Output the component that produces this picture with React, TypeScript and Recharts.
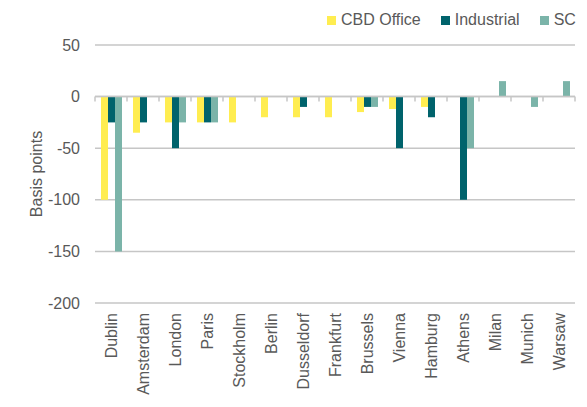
import { BarChart, Bar, XAxis, YAxis, CartesianGrid, Legend, ReferenceLine } from "recharts"

const cities = [
  "Dublin", "Amsterdam", "London", "Paris", "Stockholm", "Berlin", "Dusseldorf",
  "Frankfurt", "Brussels", "Vienna", "Hamburg", "Athens", "Milan", "Munich", "Warsaw",
]
const cbdOffice = [-100, -35, -25, -25, -25, -20, -20, -20, -15, -12, -10, 0, 0, 0, 0]
const industrial = [-25, -25, -50, -25, 0, 0, -10, 0, -10, -50, -20, -100, 0, 0, 0]
const sc = [-150, 0, -25, -25, 0, 0, 0, 0, -10, 0, 0, -50, 15, -10, 15]
const yTicks = [50, 0, -50, -100, -150, -200]

const data = cities.map((city, i) => ({
  city,
  cbd: cbdOffice[i],
  industrial: industrial[i],
  sc: sc[i],
}))

const textColor = "#595959"
const gridColor = "#c6c6c6"
const font = "'Liberation Sans', Arial, sans-serif"

function CityTick(props: any) {
  const { x, y, payload } = props
  return (
    <text
      x={x}
      y={y}
      transform={`rotate(-90, ${x}, ${y})`}
      textAnchor="end"
      dy="0.35em"
      fill={textColor}
      fontSize={16}
      fontFamily={font}
    >
      {payload.value}
    </text>
  )
}

// zero line with little ticks between the categories, like the Excel original
function ZeroLine(props: any) {
  const { x1, y1, x2 } = props
  const n = cities.length
  const step = (x2 - x1) / n
  return (
    <g>
      <line x1={x1} y1={y1} x2={x2} y2={y1} stroke={gridColor} strokeWidth={1.5} />
      {Array.from({ length: n + 1 }, (_, i) => (
        <line key={i} x1={x1 + i * step} y1={y1} x2={x1 + i * step} y2={y1 + 5} stroke={gridColor} strokeWidth={1.5} />
      ))}
    </g>
  )
}

function LegendBox(props: any) {
  const { payload } = props
  return (
    <div style={{ display: "flex", fontFamily: font, fontSize: 16, color: textColor, whiteSpace: "nowrap", height: 18 }}>
      {payload.map((p: any) => (
        <div key={p.value} style={{ display: "flex", alignItems: "center", marginRight: 20 }}>
          <span style={{ display: "inline-block", width: 9, height: 9, background: p.color, marginRight: 5 }} />
          {p.value}
        </div>
      ))}
    </div>
  )
}

export default function App() {
  return (
    <div style={{ position: "absolute", left: 0, top: 0, background: "#fff" }}>
      <BarChart
        width={587}
        height={407}
        data={data}
        margin={{ top: 27, right: 12, bottom: 4, left: 0 }}
        barSize={7}
        barGap={0}
      >
        <CartesianGrid vertical={false} stroke={gridColor} strokeWidth={1.5} />
        <XAxis
          dataKey="city"
          axisLine={false}
          tickLine={false}
          tickSize={0}
          tickMargin={10}
          height={100}
          interval={0}
          tick={<CityTick />}
        />
        <YAxis
          domain={[-200, 50]}
          ticks={yTicks}
          width={95}
          axisLine={false}
          tickLine={false}
          tickMargin={9}
          tick={{ fill: textColor, fontSize: 16, fontFamily: font }}
          label={{
            value: "Basis points",
            angle: -90,
            position: "insideLeft",
            offset: 36,
            style: { textAnchor: "middle", fill: textColor, fontSize: 16, fontFamily: font },
          }}
        />
        <Legend
          verticalAlign="top"
          align="left"
          content={<LegendBox />}
          wrapperStyle={{ top: 11, left: 327, width: 260 }}
        />
        <Bar dataKey="cbd" name="CBD Office" fill="#FFED50" isAnimationActive={false} />
        <Bar dataKey="industrial" name="Industrial" fill="#00636C" isAnimationActive={false} />
        <Bar dataKey="sc" name="SC" fill="#7BB4A9" isAnimationActive={false} />
        <ReferenceLine y={0} shape={<ZeroLine />} />
      </BarChart>
    </div>
  )
}
